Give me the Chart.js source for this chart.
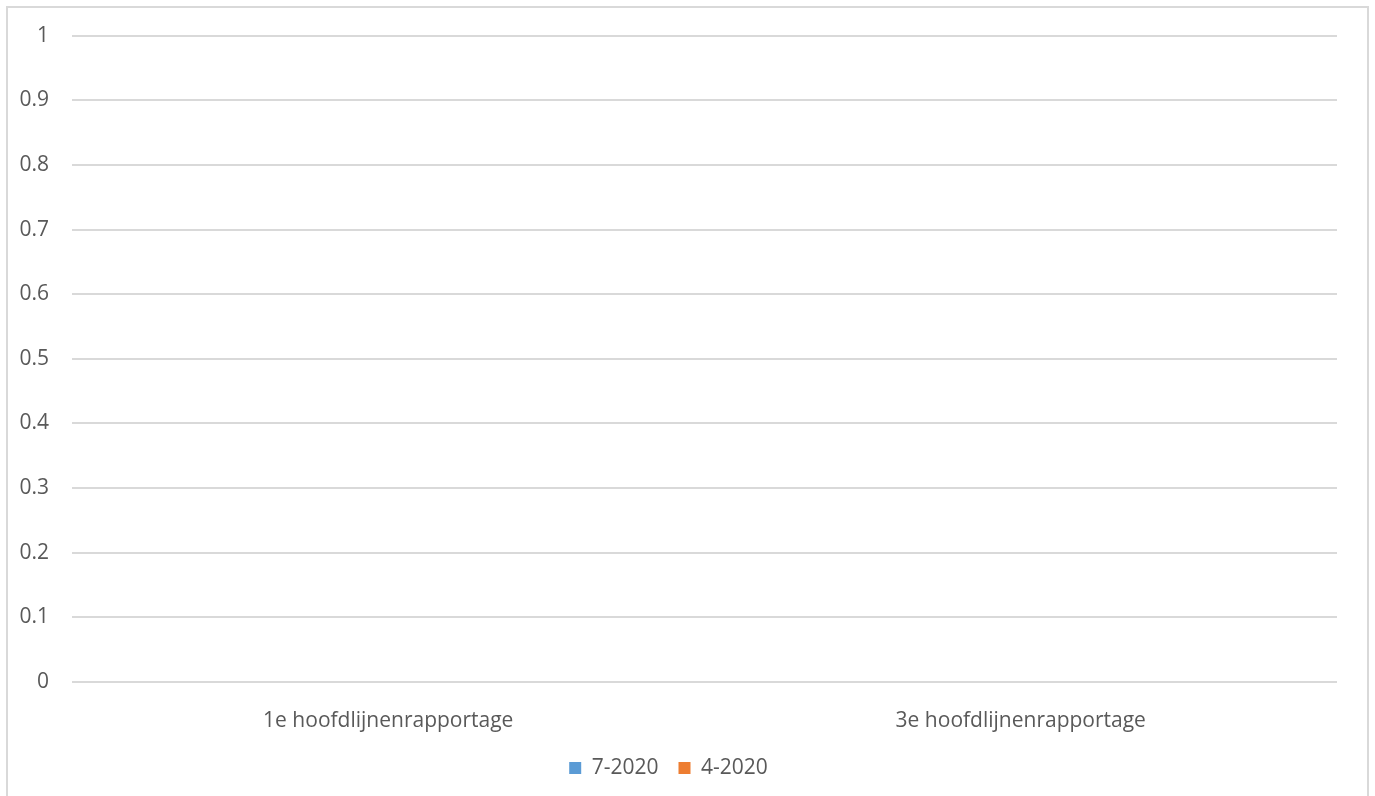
<!DOCTYPE html>
<html>
<head>
<meta charset="utf-8">
<script src="https://cdn.jsdelivr.net/npm/chart.js@4/dist/chart.umd.min.js"></script>
<style>
    body { margin: 0; background: #fff; overflow: hidden; }
    .frame {
        position: absolute; left: 6px; top: 6px; width: 1359px; height: 800px;
        border: 2px solid #d9d9d9; border-bottom: none;
    }
    #chart { position: absolute; left: 0; top: 0; }
</style>
</head>
<body>
<div class="frame"></div>
<canvas id="chart" width="1375" height="796"></canvas>
<script>
// Chart data
const categories = ['1e hoofdlijnenrapportage', '3e hoofdlijnenrapportage'];
const series2007 = [0, 0]; // 7-2020
const series2004 = [0, 0]; // 4-2020
const yTicks = [0, 0.1, 0.2, 0.3, 0.4, 0.5, 0.6, 0.7, 0.8, 0.9, 1];

const fontFamily = '"Open Sans", sans-serif';
const textColor = '#595959';

const ctx = document.getElementById('chart').getContext('2d');
new Chart(ctx, {
    type: 'bar',
    data: {
        labels: categories,
        datasets: [{
            label: '7-2020',
            data: series2007,
            backgroundColor: '#5b9bd5',
            borderWidth: 0
        }, {
            label: '4-2020',
            data: series2004,
            backgroundColor: '#ed7d31',
            borderWidth: 0
        }]
    },
    options: {
        responsive: false,
        animation: false,
        layout: {
            padding: { left: 0, right: 38, top: 35, bottom: 7.5 }
        },
        plugins: {
            legend: {
                position: 'bottom',
                labels: {
                    color: textColor,
                    boxWidth: 12,
                    boxHeight: 12,
                    padding: 20,
                    font: { family: fontFamily, size: 21 }
                }
            },
            tooltip: { enabled: false }
        },
        scales: {
            y: {
                min: 0,
                max: 1,
                afterFit: s => { s.width = 72; },
                afterBuildTicks: s => { s.ticks = yTicks.map(v => ({ value: v })); },
                grid: { color: '#d9d9d9', lineWidth: 2, drawTicks: false },
                border: { display: false },
                ticks: {
                    color: textColor,
                    padding: 23,
                    font: { family: fontFamily, size: 21 },
                    callback: v => String(v)
                }
            },
            x: {
                afterFit: s => { s.height = 55.5; },
                grid: { display: false },
                border: { display: false },
                ticks: {
                    color: textColor,
                    padding: 18,
                    maxRotation: 0,
                    font: { family: fontFamily, size: 21 }
                }
            }
        }
    }
});
</script>
</body>
</html>
